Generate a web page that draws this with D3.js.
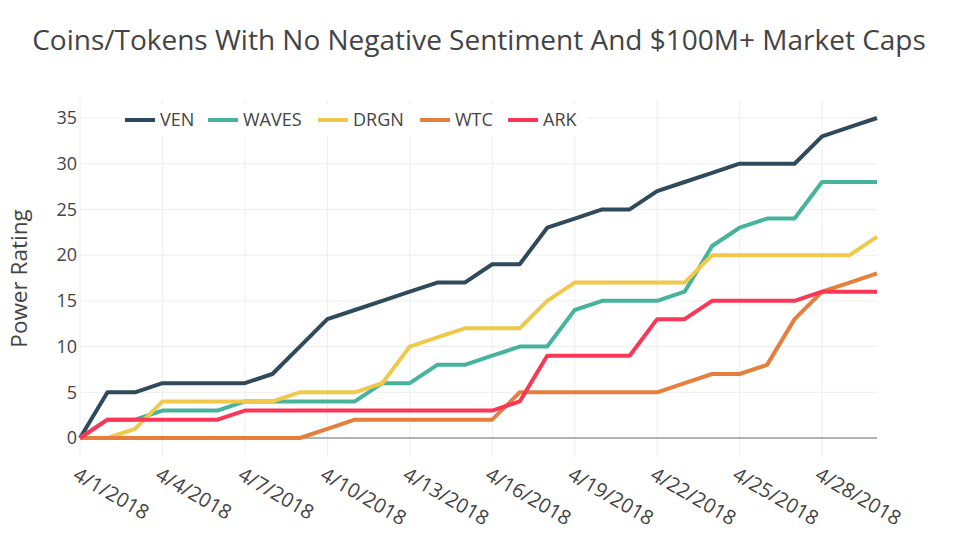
<!DOCTYPE html>
<html>
<head>
<meta charset="utf-8">
<script src="https://cdn.jsdelivr.net/npm/d3@7"></script>
<style>
  html, body { margin: 0; padding: 0; background: #fff; }
  svg { display: block; font-family: "Open Sans", sans-serif; }
</style>
</head>
<body>
<svg id="chart" width="956" height="537"></svg>
<script>
const dates = ["4/1/2018","4/2/2018","4/3/2018","4/4/2018","4/5/2018","4/6/2018","4/7/2018","4/8/2018","4/9/2018","4/10/2018",
  "4/11/2018","4/12/2018","4/13/2018","4/14/2018","4/15/2018","4/16/2018","4/17/2018","4/18/2018","4/19/2018","4/20/2018",
  "4/21/2018","4/22/2018","4/23/2018","4/24/2018","4/25/2018","4/26/2018","4/27/2018","4/28/2018","4/29/2018","4/30/2018"];
const ven   = [0,5,5,6,6,6,6,7,10,13,14,15,16,17,17,19,19,23,24,25,25,27,28,29,30,30,30,33,34,35];
const waves = [0,2,2,3,3,3,4,4,4,4,4,6,6,8,8,9,10,10,14,15,15,15,16,21,23,24,24,28,28,28];
const drgn  = [0,0,1,4,4,4,4,4,5,5,5,6,10,11,12,12,12,15,17,17,17,17,17,20,20,20,20,20,20,22];
const wtc   = [0,0,0,0,0,0,0,0,0,1,2,2,2,2,2,2,5,5,5,5,5,5,6,7,7,8,13,16,17,18];
const ark   = [0,2,2,2,2,2,3,3,3,3,3,3,3,3,3,3,4,9,9,9,9,13,13,15,15,15,15,16,16,16];
const seriesNames = ["VEN","WAVES","DRGN","WTC","ARK"];
const seriesValues = [ven, waves, drgn, wtc, ark];
const seriesColors = ["#2e4a5c","#46b39b","#f0c94b","#e67e3c","#fa3756"];
const xTickLabels = ["4/1/2018","4/4/2018","4/7/2018","4/10/2018","4/13/2018","4/16/2018","4/19/2018","4/22/2018","4/25/2018","4/28/2018"];
const yTicks = [0,5,10,15,20,25,30,35];
const titleText = "Coins/Tokens With No Negative Sentiment And $100M+ Market Caps";
const yTitleText = "Power Rating";

(function () {
const svg = d3.select("#chart");
const W = 956, H = 537;
const mLeft = 80, mRight = 877, mTop = 100, mBottom = 457;

const parse = d3.timeParse("%m/%d/%Y");
const dateObjs = dates.map(parse);
const x = d3.scaleTime().domain([dateObjs[0], dateObjs[dateObjs.length-1]]).range([mLeft, mRight]);
const y = d3.scaleLinear().domain([-2.08, 36.97]).range([mBottom, mTop]);

// grid lines
const gx = svg.append("g");
gx.selectAll("line.v").data(xTickLabels.map(parse)).enter().append("line")
  .attr("x1", d => x(d)).attr("x2", d => x(d)).attr("y1", mTop).attr("y2", mBottom)
  .attr("stroke", "#eeeeee").attr("stroke-width", 1);
gx.selectAll("line.h").data(yTicks.filter(d => d !== 0)).enter().append("line")
  .attr("x1", mLeft).attr("x2", mRight).attr("y1", d => y(d)).attr("y2", d => y(d))
  .attr("stroke", "#eeeeee").attr("stroke-width", 1);
// zero line
svg.append("line").attr("x1", mLeft).attr("x2", mRight).attr("y1", y(0)).attr("y2", y(0))
  .attr("stroke", "#999").attr("stroke-width", 1.5);

// y axis
const yAxis = d3.axisLeft(y).tickValues(yTicks).tickSize(0).tickPadding(2);
const ya = svg.append("g").attr("transform", `translate(${mLeft - 1},0)`).call(yAxis);
ya.select(".domain").remove();
ya.selectAll("text").attr("fill", "#444").style("font-size", "18px").style("font-family", "Open Sans");

// x axis
const xAxis = d3.axisBottom(x).tickValues(xTickLabels.map(parse)).tickSize(0)
  .tickFormat((d, i) => xTickLabels[i]);
const xa = svg.append("g").attr("transform", `translate(0,${mBottom})`).call(xAxis);
xa.select(".domain").remove();
xa.selectAll("text").attr("fill", "#444").style("font-size", "20px").style("font-family", "Open Sans")
  .attr("text-anchor", "start").attr("dy", null).attr("y", 0)
  .attr("transform", "translate(-5,15) rotate(30)")
  .attr("dominant-baseline", "central");

// lines
const line = d3.line().x((d, i) => x(dateObjs[i])).y(d => y(d));
const order = [0,1,2,3,4];
svg.append("g").selectAll("path").data(order).enter().append("path")
  .attr("d", k => line(seriesValues[k]))
  .attr("fill", "none").attr("stroke", k => seriesColors[k]).attr("stroke-width", 4)
  .attr("stroke-linejoin", "round");

// legend
const lg = svg.append("g");
lg.append("rect").attr("x", 120).attr("y", 104).attr("width", 467).attr("height", 32).attr("fill", "#fff");
const legendX = [125, 208, 318, 420, 508];
seriesNames.forEach((n, k) => {
  lg.append("line").attr("x1", legendX[k]).attr("x2", legendX[k] + 30).attr("y1", 120).attr("y2", 120)
    .attr("stroke", seriesColors[k]).attr("stroke-width", 4);
  lg.append("text").attr("x", legendX[k] + 35).attr("y", 120).attr("dy", "0.35em")
    .attr("fill", "#444").style("font-size", "18px").text(n);
});

// title
svg.append("text").attr("x", W / 2 + 1).attr("y", 50).attr("text-anchor", "middle")
  .attr("fill", "#444").style("font-size", "28px").text(titleText);

// y title
svg.append("text").attr("transform", `translate(27,${(mTop + mBottom) / 2}) rotate(-90)`)
  .attr("text-anchor", "middle").attr("fill", "#444").style("font-size", "22.5px").text(yTitleText);
})();
</script>
</body>
</html>
